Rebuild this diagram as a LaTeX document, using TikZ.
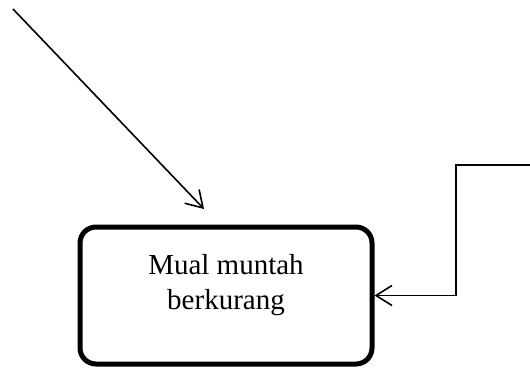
\documentclass[tikz,border=0pt]{standalone}
\usepackage{fontspec}
\setmainfont{Liberation Serif}
\usetikzlibrary{arrows.meta}
\tikzset{
  state/.style={draw, line width=5pt, rounded corners=16pt,
    minimum width=292pt, minimum height=137pt, inner sep=0pt},
  caption/.style={align=center, inner sep=0pt,
    font=\fontsize{29pt}{35pt}\selectfont},
  flow/.style={line width=1.6pt,
    -{Straight Barb[length=16pt, width=20pt, line width=1.6pt]}},
}
\begin{document}
\begin{tikzpicture}[x=1pt,y=-1pt]
  \useasboundingbox (0,0) rectangle (530,370);
  % outcome box
  \node[state] (box) at (226,295.5) {};
  \node[caption] (txt) at (226,285) {Mual muntah\\berkurang};
  % incoming connectors
  \coordinate (s1) at (13,9);
  \coordinate (e1) at (204,209);
  \coordinate (s2) at (530,165);
  \coordinate (k2) at (456,165);
  \draw[flow] (s1) -- (e1);
  \draw[flow] (s2) -- (k2) |- (box.east);
\end{tikzpicture}
\end{document}
